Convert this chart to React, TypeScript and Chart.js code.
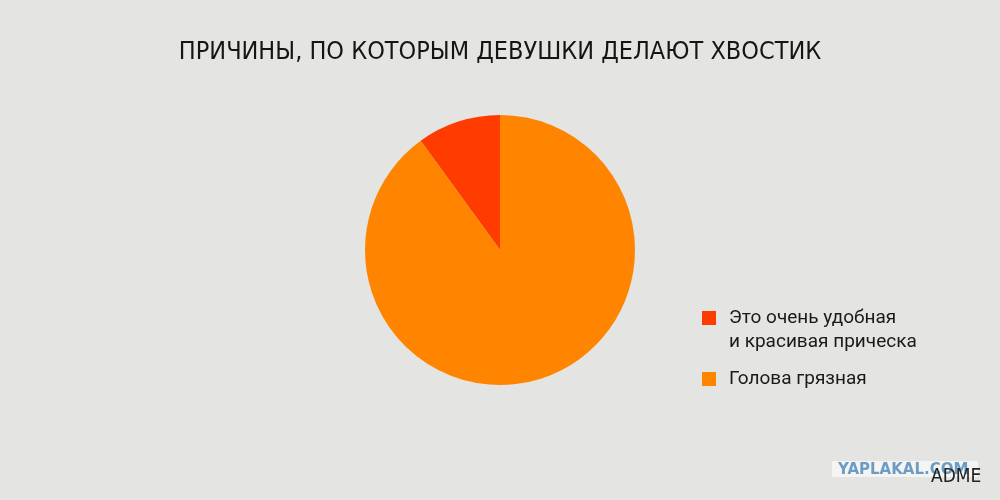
import React, { useEffect, useRef } from "react";
import { Chart, registerables } from "chart.js";

Chart.register(...registerables);

const TITLE = "ПРИЧИНЫ, ПО КОТОРЫМ ДЕВУШКИ ДЕЛАЮТ ХВОСТИК";
const LABELS = ["Это очень удобная\nи красивая прическа", "Голова грязная"];
const VALUES = [10, 90];
const COLORS = ["#ff3c00", "#ff8500"];
const WATERMARK = "ADME";
const SITE_MARK = "YAPLAKAL.COM";

const sideLegend = {
  id: "sideLegend",
  afterDraw(chart: any) {
    const ctx = chart.ctx as CanvasRenderingContext2D;
    const ds = chart.data.datasets[0];
    const labels = chart.data.labels as string[];
    ctx.save();
    ctx.font = "19px Roboto, 'Noto Sans', sans-serif";
    ctx.textBaseline = "middle";
    ctx.textAlign = "left";
    let y = 318;
    labels.forEach((lab, i) => {
      const lines = String(lab).split("\n");
      ctx.fillStyle = ds.backgroundColor[i];
      ctx.fillRect(702, y - 7, 14, 14);
      ctx.fillStyle = "#1a1a1a";
      lines.forEach((ln, j) => ctx.fillText(ln, 729, y + j * 24));
      y += lines.length * 24 + 13;
    });
    // watermarks
    ctx.font = "bold 15px 'DejaVu Sans', sans-serif";
    ctx.fillStyle = "rgba(255,255,255,0.6)";
    ctx.fillRect(832, 461, 146, 16);
    ctx.fillStyle = "#6c9cc2";
    ctx.fillText(SITE_MARK, 838, 470);
    ctx.font = "19px 'DejaVu Sans Condensed', 'Liberation Sans Narrow', sans-serif";
    ctx.fillStyle = "#222";
    ctx.fillText(WATERMARK, 931, 477);
    ctx.restore();
  },
};

export default function App() {
  const ref = useRef<HTMLCanvasElement>(null);
  useEffect(() => {
    if (!ref.current) return;
    const chart = new Chart(ref.current, {
      type: "pie",
      data: {
        labels: LABELS,
        datasets: [
          {
            data: VALUES,
            backgroundColor: COLORS,
            borderWidth: 0,
            radius: 135,
          },
        ],
      },
      options: {
        animation: false,
        responsive: false,
        rotation: -36,
        layout: { padding: { top: 0, bottom: 115, left: 0, right: 0 } },
        plugins: {
          legend: { display: false },
          tooltip: { enabled: false },
          title: {
            display: true,
            text: TITLE,
            color: "#151515",
            font: {
              family: "'DejaVu Sans Condensed', 'Liberation Sans Narrow', sans-serif",
              size: 25,
              weight: "normal",
              lineHeight: 1.2,
            },
            padding: { top: 37, bottom: 48 },
          },
        },
      },
      plugins: [sideLegend],
    });
    return () => chart.destroy();
  }, []);
  return (
    <div
      style={{
        position: "absolute",
        left: 0,
        top: 0,
        width: 1000,
        height: 500,
        background: "#e4e4e2",
      }}
    >
      <canvas ref={ref} width={1000} height={500} style={{ width: 1000, height: 500 }} />
    </div>
  );
}
